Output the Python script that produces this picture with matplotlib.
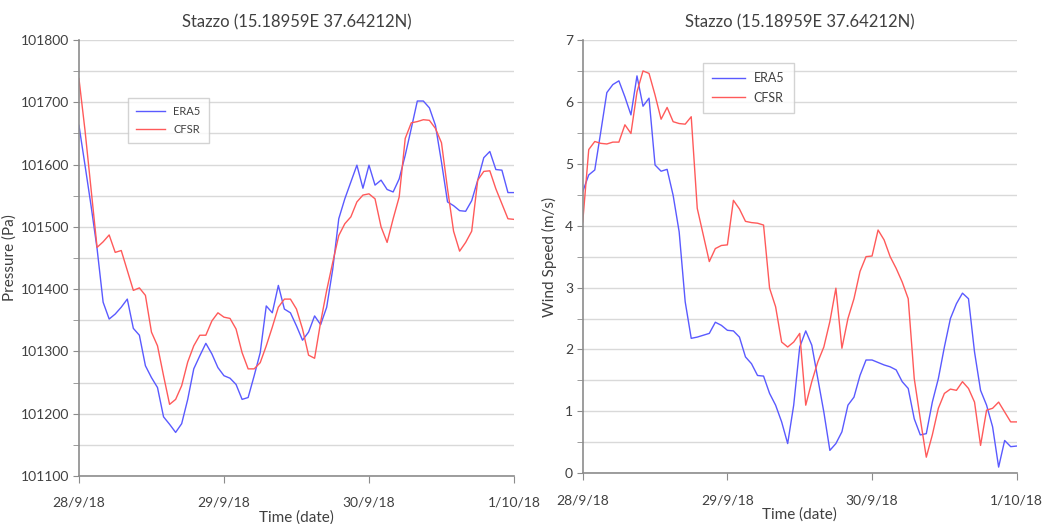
import numpy as np
import matplotlib
matplotlib.use("Agg")
import matplotlib.pyplot as plt
from matplotlib.ticker import MultipleLocator, FuncFormatter

plt.rcParams['font.family'] = ['Lato', 'DejaVu Sans']

# Hourly series, 28/9/18 00:00 -> 1/10/18 00:00
hours = np.arange(73)

pressure_era5 = [
    101663, 101599, 101534, 101465, 101379, 101352, 101360, 101371, 101384, 101337,
    101326, 101277, 101258, 101242, 101195, 101183, 101170, 101184, 101223, 101272,
    101293, 101313, 101296, 101274, 101261, 101257, 101247, 101223, 101226, 101261,
    101298, 101373, 101362, 101406, 101368, 101362, 101341, 101318, 101331, 101357,
    101343, 101371, 101432, 101513, 101545, 101572, 101599, 101562, 101599, 101567,
    101575, 101560, 101556, 101577, 101615, 101658, 101702, 101702, 101691, 101663,
    101604, 101540, 101534, 101526, 101525, 101542, 101575, 101611, 101621, 101592,
    101591, 101555, 101555,
]
pressure_cfsr = [
    101738, 101655, 101561, 101467, 101476, 101487, 101459, 101462, 101430, 101398,
    101402, 101390, 101331, 101309, 101261, 101215, 101223, 101245, 101283, 101309,
    101326, 101326, 101349, 101362, 101355, 101353, 101336, 101298, 101272, 101272,
    101282, 101309, 101339, 101371, 101384, 101384, 101368, 101336, 101294, 101289,
    101347, 101398, 101443, 101486, 101505, 101516, 101540, 101551, 101553, 101545,
    101500, 101475, 101513, 101548, 101642, 101667, 101669, 101672, 101671, 101658,
    101635, 101561, 101493, 101461, 101475, 101493, 101575, 101589, 101590, 101561,
    101537, 101513, 101512,
]

wind_era5 = [
    4.55, 4.82, 4.90, 5.52, 6.15, 6.28, 6.34, 6.08, 5.79, 6.42,
    5.93, 6.06, 4.98, 4.88, 4.91, 4.49, 3.90, 2.77, 2.18, 2.20,
    2.23, 2.26, 2.44, 2.39, 2.31, 2.30, 2.20, 1.88, 1.77, 1.58,
    1.57, 1.29, 1.10, 0.83, 0.48, 1.10, 2.04, 2.30, 2.07, 1.53,
    0.99, 0.37, 0.48, 0.67, 1.10, 1.23, 1.58, 1.83, 1.83, 1.79,
    1.75, 1.72, 1.67, 1.48, 1.37, 0.88, 0.62, 0.64, 1.15, 1.53,
    2.04, 2.50, 2.74, 2.91, 2.82, 1.96, 1.34, 1.10, 0.75, 0.10,
    0.53, 0.43, 0.44,
]
wind_cfsr = [
    4.06, 5.23, 5.36, 5.33, 5.32, 5.35, 5.35, 5.63, 5.49, 6.16,
    6.50, 6.46, 6.11, 5.72, 5.91, 5.68, 5.65, 5.64, 5.76, 4.28,
    3.85, 3.42, 3.63, 3.68, 3.69, 4.41, 4.27, 4.07, 4.05, 4.04,
    4.01, 2.99, 2.69, 2.12, 2.04, 2.12, 2.26, 1.10, 1.48, 1.80,
    2.04, 2.45, 2.99, 2.02, 2.50, 2.82, 3.26, 3.50, 3.51, 3.93,
    3.77, 3.50, 3.31, 3.09, 2.82, 1.53, 0.88, 0.26, 0.62, 1.05,
    1.29, 1.36, 1.34, 1.48, 1.37, 1.15, 0.45, 1.02, 1.05, 1.15,
    0.99, 0.83, 0.83,
]

date_ticks = [0, 24, 48, 72]
date_labels = ["28/9/18", "29/9/18", "30/9/18", "1/10/18"]
title = "Stazzo (15.18959E 37.64212N)"

BLUE = "#5a5aff"
RED = "#ff5a5a"
GRID = "#d9d9d9"
SPINE = "#8c8c8c"
TEXT = "#404040"

fig = plt.figure(figsize=(10.43, 5.24), dpi=100)
ax1 = fig.add_axes([0.0757, 0.0916, 0.4171, 0.8321])
ax2 = fig.add_axes([0.5587, 0.0968, 0.4161, 0.8269])


def style(ax, era5, cfsr, ylim, major, minor, ylabel, ylabel_x,
          legend_anchor, legend_size):
    ax.plot(hours, era5, color=BLUE, lw=1.0, label="ERA5")
    ax.plot(hours, cfsr, color=RED, lw=1.0, label="CFSR")
    ax.set_xlim(0, 72)
    ax.set_ylim(*ylim)
    ax.set_xticks(date_ticks)
    ax.set_xticklabels(date_labels)
    ax.yaxis.set_major_locator(MultipleLocator(major))
    ax.yaxis.set_minor_locator(MultipleLocator(minor))
    ax.grid(True, which="both", axis="y", color=GRID, lw=1.0)
    ax.set_axisbelow(True)
    for s in ("top", "right"):
        ax.spines[s].set_visible(False)
    for s in ("left", "bottom"):
        ax.spines[s].set_color(SPINE)
        ax.spines[s].set_linewidth(1.2)
    ax.tick_params(axis="x", which="major", length=5, color=SPINE,
                   labelsize=10, labelcolor=TEXT, pad=10)
    ax.tick_params(axis="y", which="both", length=4, color=SPINE,
                   labelsize=10, labelcolor=TEXT, pad=3)
    ax.set_title(title, fontsize=12, color=TEXT, pad=9)
    ax.set_ylabel(ylabel, fontsize=11, color=TEXT)
    ax.yaxis.set_label_coords(ylabel_x, 0.5)
    ax.set_xlabel("Time (date)", fontsize=11, color=TEXT, labelpad=1)
    leg = ax.legend(loc="upper left", bbox_to_anchor=legend_anchor,
                    borderaxespad=0.0, frameon=True, fancybox=False,
                    fontsize=legend_size, handlelength=2.6,
                    handletextpad=0.7, borderpad=0.75, labelspacing=0.6)
    leg.get_frame().set_edgecolor("#c8c8c8")
    leg.get_frame().set_linewidth(1.0)
    for t in leg.get_texts():
        t.set_color(TEXT)


style(ax1, pressure_era5, pressure_cfsr, (101100, 101800), 100, 50,
      "Pressure (Pa)", -0.143, (0.113, 0.867), 8)
ax1.yaxis.set_major_formatter(FuncFormatter(lambda v, p: f"{int(v)}"))
style(ax2, wind_era5, wind_cfsr, (0, 7), 1, 0.5,
      "Wind Speed (m/s)", -0.06, (0.277, 0.947), 9)

fig.savefig("out.png", dpi=100, facecolor="white")
